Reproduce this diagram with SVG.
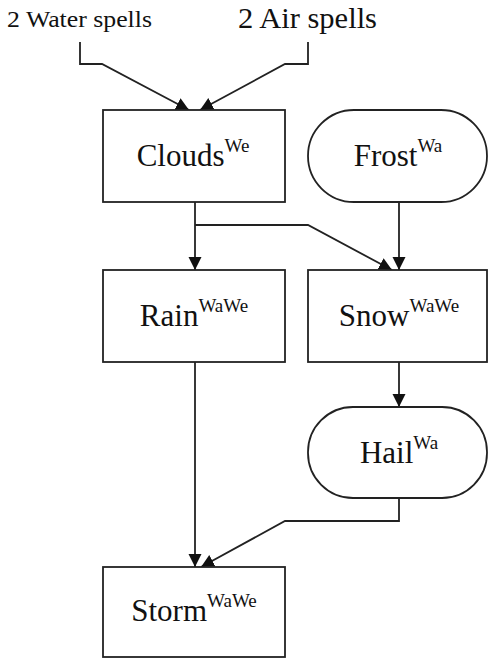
<svg xmlns="http://www.w3.org/2000/svg" width="489" height="660" viewBox="0 0 489 660">
<defs>
<marker id="arr" markerUnits="userSpaceOnUse" markerWidth="14" markerHeight="14" refX="13" refY="6.5" orient="auto">
<path d="M0,0 L13,6.5 L0,13 z" fill="#111"/>
</marker>
<style>
.box{fill:#fff;stroke:#222;stroke-width:1.8}
.lbl{font-family:"Liberation Serif","Times New Roman",serif;font-size:31px;fill:#111;text-anchor:middle}
.sup{font-size:19px}
.top{font-family:"Liberation Serif","Times New Roman",serif;fill:#111}
.con{fill:none;stroke:#222;stroke-width:1.8;marker-end:url(#arr)}
</style>
</defs>
<rect width="489" height="660" fill="#fff"/>
<g id="inputs">
<text class="top" x="7" y="27" font-size="24" textLength="145" lengthAdjust="spacingAndGlyphs">2 Water spells</text>
<text class="top" x="238" y="28" font-size="29" textLength="139" lengthAdjust="spacingAndGlyphs">2 Air spells</text>
</g>
<g id="connectors">
<path class="con" d="M80,42 V64 H102 L189,110"/>
<path class="con" d="M308,42 V64 H285 L200,110"/>
<path class="con" d="M195,202 V270"/>
<path class="con" d="M195,225 H308 L392,270"/>
<path class="con" d="M399,202 V270"/>
<path class="con" d="M399,362 V407"/>
<path class="con" d="M195,362 V567"/>
<path class="con" d="M399,498 V521 H285 L201,567"/>
</g>
<g id="clouds">
<rect class="box" x="103" y="110" width="182" height="92"/>
<text class="lbl" x="193" y="166">Clouds<tspan class="sup" dy="-14">We</tspan></text>
</g>
<g id="frost">
<rect class="box" x="308" y="110" width="179" height="92" rx="46" ry="46"/>
<text class="lbl" x="398" y="166">Frost<tspan class="sup" dy="-14">Wa</tspan></text>
</g>
<g id="rain">
<rect class="box" x="103" y="270" width="182" height="92"/>
<text class="lbl" x="194" y="326">Rain<tspan class="sup" dy="-14">WaWe</tspan></text>
</g>
<g id="snow">
<rect class="box" x="308" y="270" width="179" height="92"/>
<text class="lbl" x="399" y="326">Snow<tspan class="sup" dy="-14">WaWe</tspan></text>
</g>
<g id="hail">
<rect class="box" x="308" y="407" width="179" height="91" rx="45" ry="45"/>
<text class="lbl" x="399" y="463">Hail<tspan class="sup" dy="-14">Wa</tspan></text>
</g>
<g id="storm">
<rect class="box" x="103" y="567" width="182" height="90"/>
<text class="lbl" x="194" y="621">Storm<tspan class="sup" dy="-14">WaWe</tspan></text>
</g>
</svg>
